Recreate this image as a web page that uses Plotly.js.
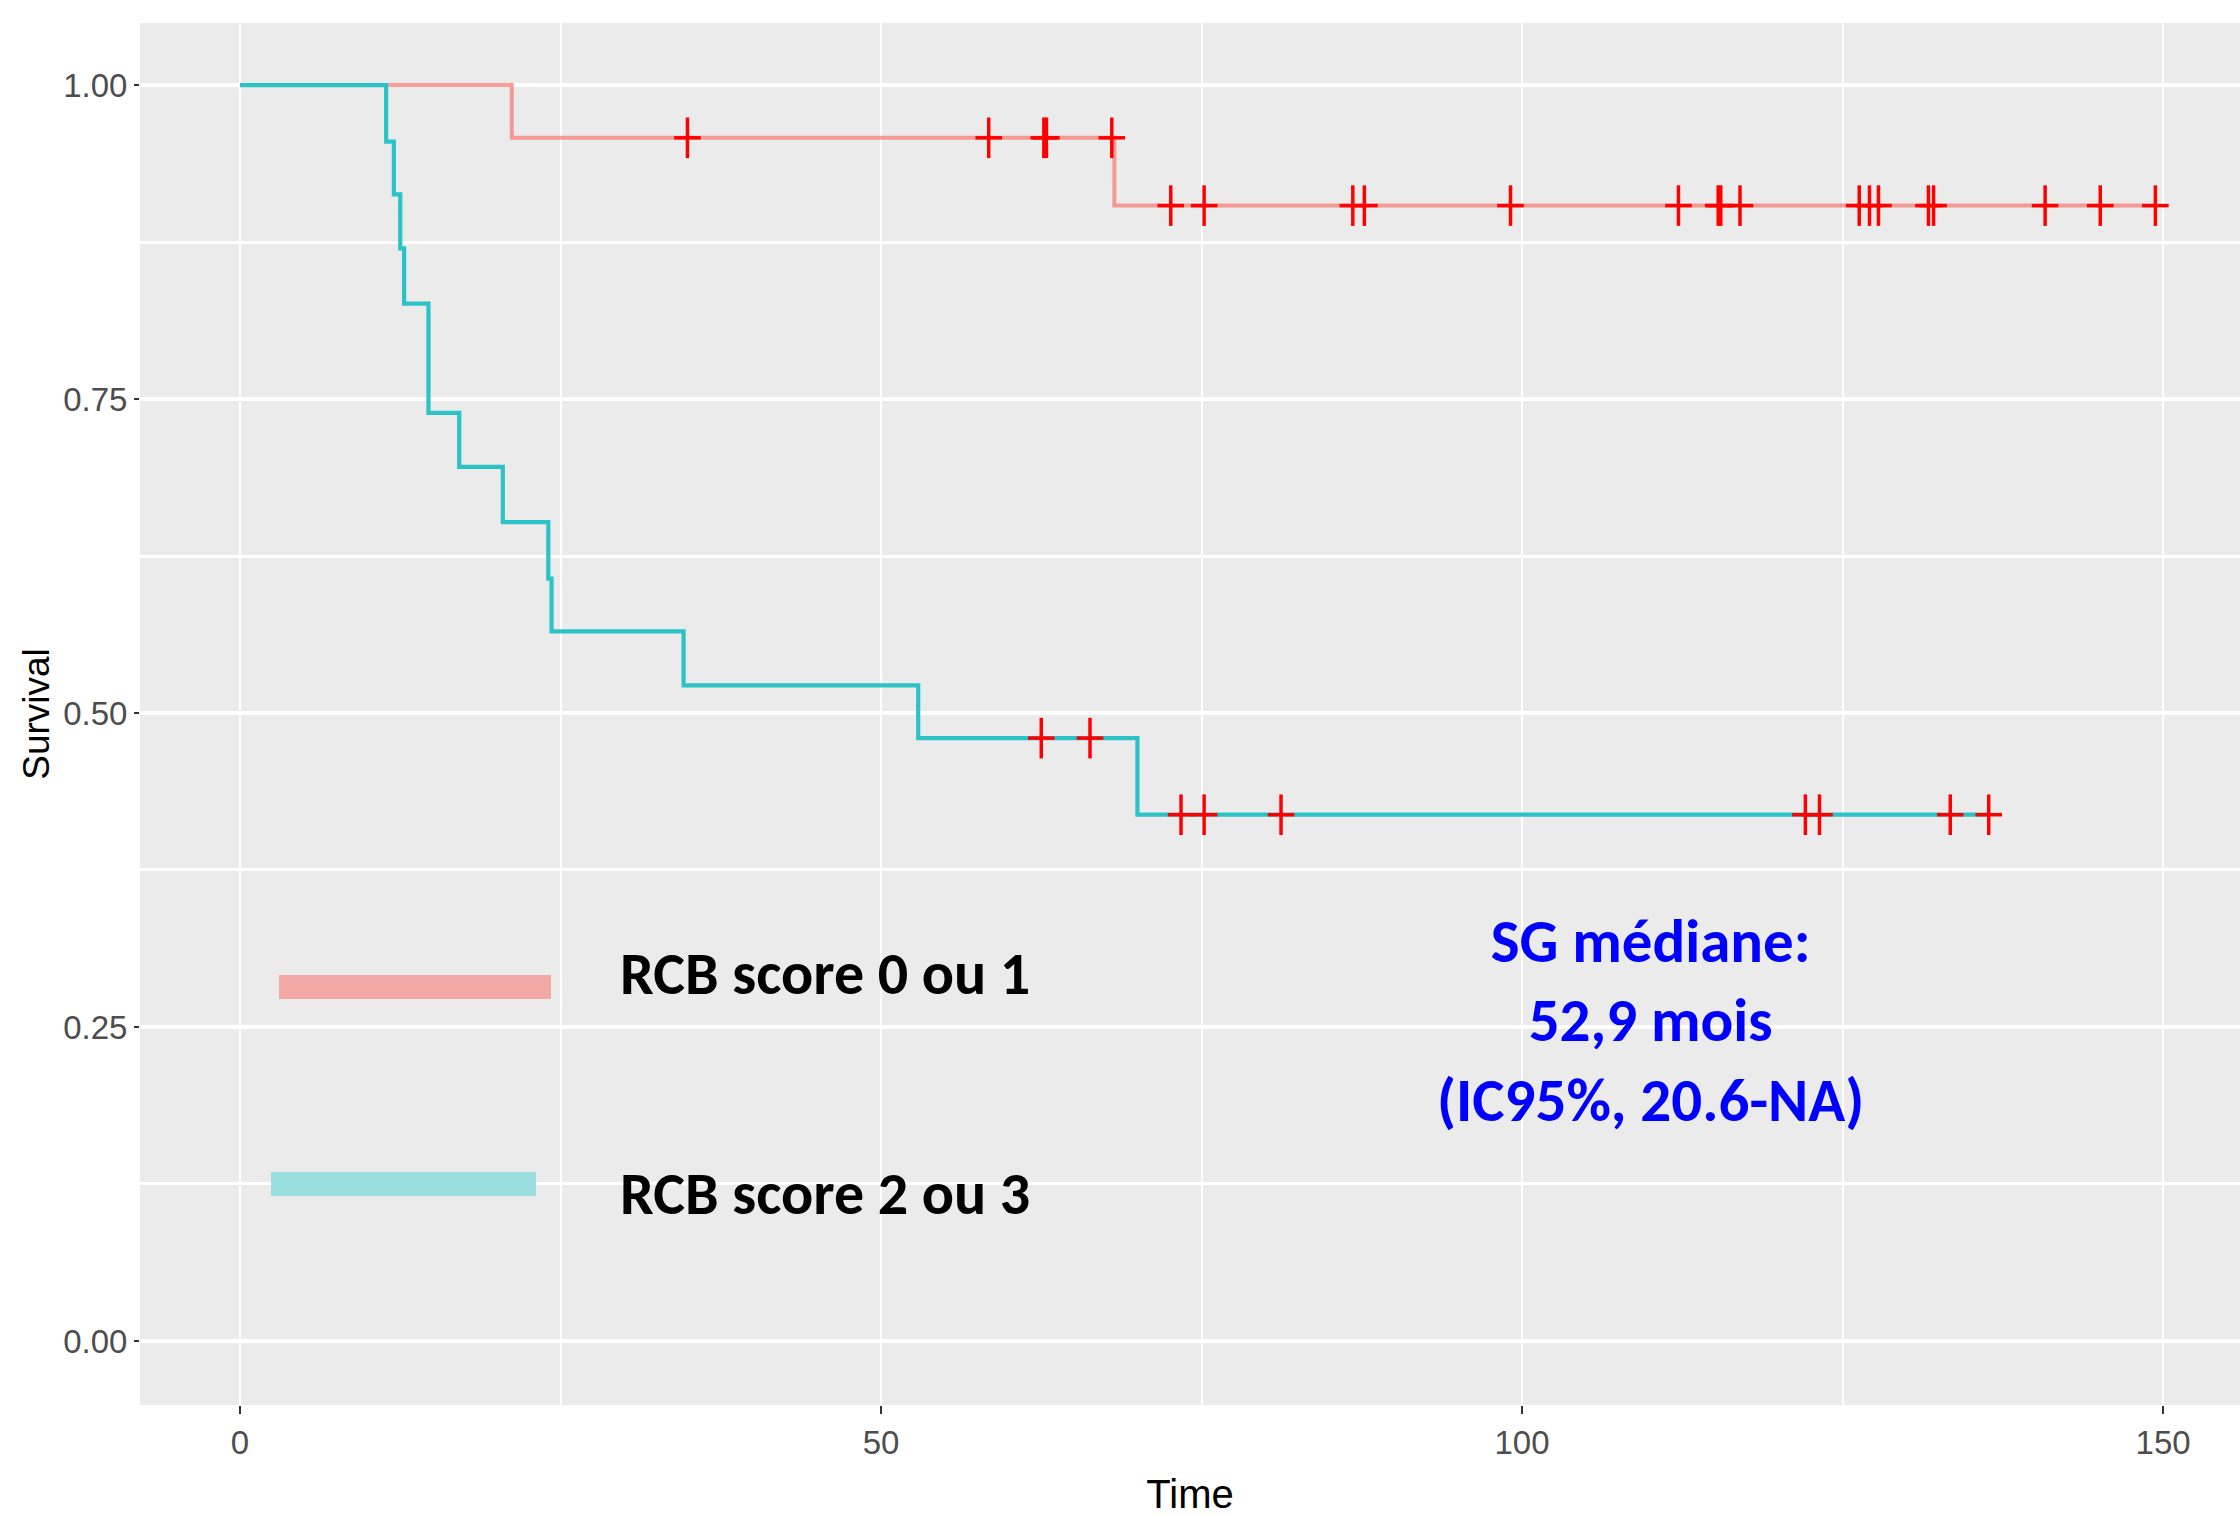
<!DOCTYPE html>
<html>
<head>
<meta charset="utf-8">
<script src="https://cdn.plot.ly/plotly-3.0.1.min.js"></script>
<style>
  html, body { margin: 0; padding: 0; background: #ffffff; }
  #chart { width: 2240px; height: 1516px; }
</style>
</head>
<body>
<div id="chart"></div>
<script>
// ---- Data (Kaplan-Meier steps, months) ----
const redStepTimes = [0, 21.2, 68.2, 149.4];
const redStepSurv  = [1.0, 0.958, 0.904, 0.904];
const redCensorTimes = [34.9, 58.4, 62.7, 62.9, 68.0, 72.6, 75.2, 86.8, 87.7, 99.1,
                        112.2, 115.3, 115.5, 117.0, 126.3, 127.1, 127.8, 131.7, 132.1,
                        140.8, 145.1, 149.4];

const cyanStepTimes = [0, 11.4, 12.0, 12.5, 12.8, 14.7, 17.1, 20.5, 24.05, 24.3, 34.6, 52.9, 70.0, 136.4];
const cyanStepSurv  = [1.0, 0.955, 0.913, 0.870, 0.826, 0.739, 0.696, 0.652, 0.607, 0.565, 0.522, 0.480, 0.419, 0.419];
const cyanCensorTimes = [62.5, 66.3, 73.4, 75.2, 81.2, 122.1, 123.2, 133.4, 136.4];

const groupLabels = ["RCB score 0 ou 1", "RCB score 2 ou 3"];
const annotationLines = ["SG médiane:", "52,9 mois", "(IC95%, 20.6-NA)"];
const xTickVals = [0, 50, 100, 150];
const yTickVals = [0, 0.25, 0.5, 0.75, 1.0];
const yTickText = ["0.00", "0.25", "0.50", "0.75", "1.00"];

// survival level of a step curve at time t
function levelAt(times, surv, t) {
  let s = surv[0];
  for (let i = 0; i < times.length; i++) { if (times[i] <= t) s = surv[i]; }
  return s;
}

const W = 2240, H = 1516;
const M = { l: 140, r: 0, t: 23, b: 111 };
const PW = W - M.l - M.r, PH = H - M.t - M.b;
const px = x => (x - M.l) / PW;           // page px -> paper x
const py = y => (H - M.b - y) / PH;       // page px -> paper y

const redCol = "rgba(246,120,112,0.72)";
const cyanCol = "#2CC3C7";
const tickFont = { family: "Liberation Sans Narrow, Liberation Sans, Arial, sans-serif", size: 33, color: "#4D4D4D" };
const bigFont = "Carlito, Liberation Sans Narrow, Lato, sans-serif";

// censor mark = vertical bar + shorter horizontal bar
function censorTraces(times, stepT, stepS) {
  const ys = times.map(t => levelAt(stepT, stepS, t));
  return [
    { x: times, y: ys, type: "scatter", mode: "markers",
      marker: { symbol: "line-ew", size: 19, line: { color: "#FF0000", width: 3.5 } },
      hoverinfo: "skip", showlegend: false },
    { x: times, y: ys, type: "scatter", mode: "markers",
      marker: { symbol: "line-ns", size: 29, line: { color: "#FF0000", width: 3.5 } },
      hoverinfo: "skip", showlegend: false }
  ];
}

const traces = [
  { x: redStepTimes, y: redStepSurv, type: "scatter", mode: "lines",
    line: { shape: "hv", color: redCol, width: 4 }, hoverinfo: "skip", showlegend: false },
  { x: cyanStepTimes, y: cyanStepSurv, type: "scatter", mode: "lines",
    line: { shape: "hv", color: cyanCol, width: 4.2 }, hoverinfo: "skip", showlegend: false },
  ...censorTraces(redCensorTimes, redStepTimes, redStepSurv),
  ...censorTraces(cyanCensorTimes, cyanStepTimes, cyanStepSurv)
];

const layout = {
  width: W, height: H,
  margin: M,
  paper_bgcolor: "#FFFFFF",
  plot_bgcolor: "#EBEBEB",
  showlegend: false,
  xaxis: {
    range: [-7.8, 156.0],
    tickvals: xTickVals,
    ticktext: xTickVals.map(String),
    ticks: "outside", ticklen: 8, tickwidth: 2, tickcolor: "#333333",
    tickfont: tickFont,
    showgrid: true, gridcolor: "#FFFFFF", gridwidth: 2.5,
    minor: { tickvals: [25, 75, 125], showgrid: true, gridcolor: "#FFFFFF", gridwidth: 2, ticks: "" },
    zeroline: false, showline: false,
    title: { text: "Time", font: { family: "Liberation Sans Narrow, Liberation Sans, Arial, sans-serif", size: 40, color: "#000000" }, standoff: 20 }
  },
  yaxis: {
    range: [-0.051, 1.0494],
    tickvals: yTickVals,
    ticktext: yTickText,
    ticks: "outside", ticklen: 5, tickwidth: 2, tickcolor: "#333333",
    tickfont: tickFont,
    showgrid: true, gridcolor: "#FFFFFF", gridwidth: 4,
    minor: { tickvals: [0.125, 0.375, 0.625, 0.875], showgrid: true, gridcolor: "#FFFFFF", gridwidth: 3, ticks: "" },
    zeroline: false, showline: false,
    title: { text: "Survival", font: { family: "Liberation Sans, Arial, sans-serif", size: 37, color: "#000000" }, standoff: 2 }
  },
  shapes: [
    { type: "rect", xref: "paper", yref: "paper", x0: px(279), x1: px(551), y0: py(999), y1: py(975),
      fillcolor: "#F2A8A4", line: { width: 0 } },
    { type: "rect", xref: "paper", yref: "paper", x0: px(271), x1: px(536), y0: py(1196), y1: py(1172),
      fillcolor: "#9ADEDF", line: { width: 0 } }
  ],
  annotations: [
    { xref: "paper", yref: "paper", x: px(618), y: py(973), xanchor: "left", yanchor: "middle",
      text: "<b>" + groupLabels[0] + "</b>", showarrow: false,
      font: { family: bigFont, size: 60, color: "#000000" } },
    { xref: "paper", yref: "paper", x: px(618), y: py(1193), xanchor: "left", yanchor: "middle",
      text: "<b>" + groupLabels[1] + "</b>", showarrow: false,
      font: { family: bigFont, size: 60, color: "#000000" } },
    { xref: "paper", yref: "paper", x: px(1650), y: py(1020), xanchor: "center", yanchor: "middle",
      align: "center",
      text: "<b>" + annotationLines.join("<br>") + "</b>", showarrow: false,
      font: { family: bigFont, size: 61, color: "#0000FF" } }
  ]
};

Plotly.newPlot("chart", traces, layout, { staticPlot: true, displayModeBar: false });
</script>
</body>
</html>
